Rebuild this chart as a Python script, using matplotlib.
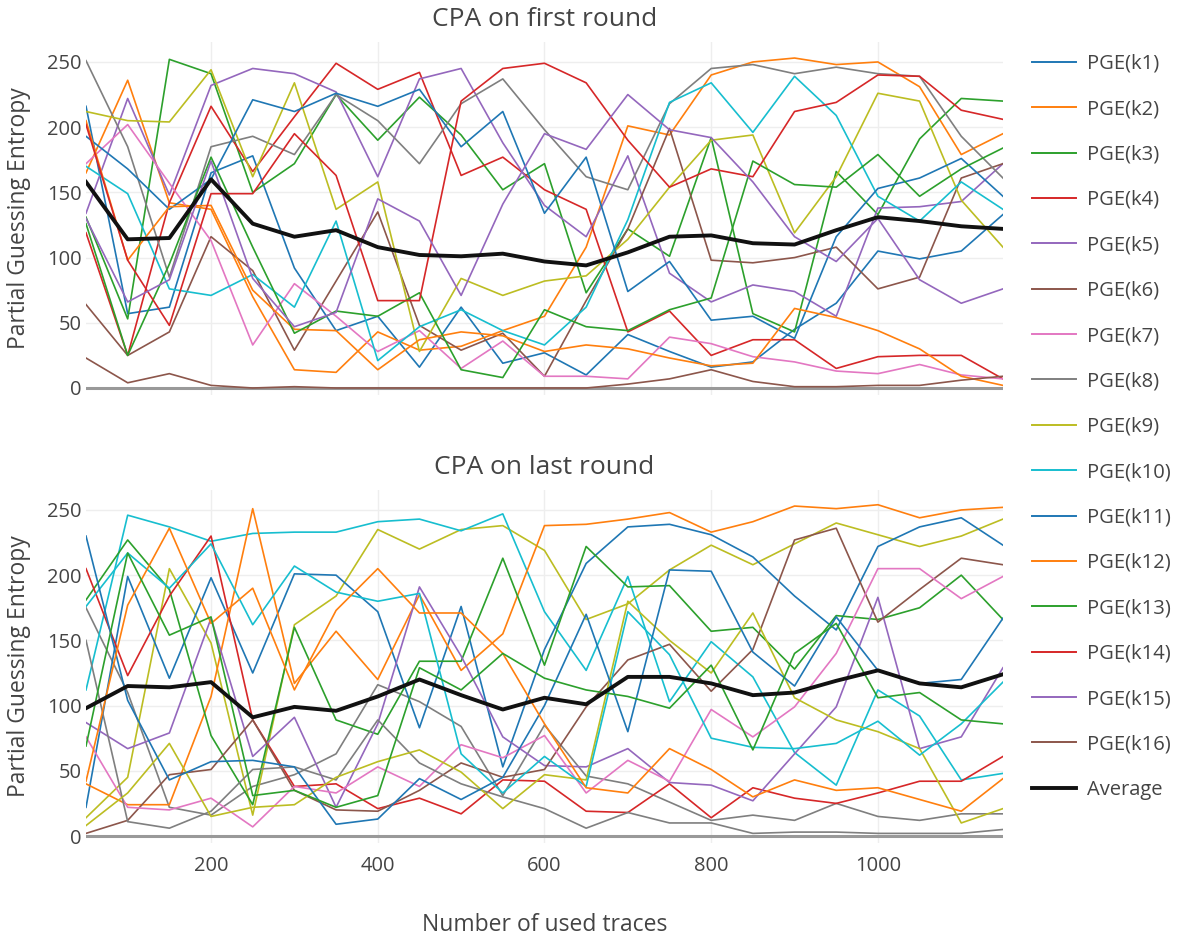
import matplotlib
matplotlib.use("Agg")
import matplotlib.pyplot as plt
from matplotlib.lines import Line2D

plt.rcParams['font.family'] = ['Open Sans', 'DejaVu Sans']

traces = list(range(50, 1151, 50))
keys = ['PGE(k%d)' % i for i in range(1, 17)]

# partial guessing entropy per key byte, first round
first_round = [
    [216, 57, 62, 165, 178, 92, 44, 55, 16, 62, 19, 27, 10, 41, 28, 16, 20, 45, 65, 105, 99, 105, 133],
    [165, 236, 142, 137, 70, 14, 12, 43, 29, 32, 44, 55, 108, 201, 194, 240, 250, 253, 248, 250, 231, 179, 195],
    [131, 53, 252, 241, 150, 172, 225, 190, 223, 194, 152, 172, 73, 122, 101, 192, 57, 43, 166, 133, 191, 222, 220],
    [119, 25, 142, 216, 166, 208, 249, 229, 242, 163, 177, 152, 137, 43, 59, 25, 37, 37, 15, 24, 25, 25, 7],
    [134, 222, 148, 232, 245, 241, 227, 162, 237, 245, 188, 140, 116, 178, 88, 66, 79, 74, 55, 138, 139, 143, 172],
    [64, 25, 43, 116, 90, 29, 82, 135, 48, 29, 42, 9, 67, 122, 199, 98, 96, 100, 108, 76, 85, 161, 172],
    [172, 202, 157, 113, 33, 80, 55, 28, 44, 15, 36, 9, 9, 7, 39, 34, 24, 20, 13, 11, 18, 10, 7],
    [251, 185, 85, 185, 193, 179, 225, 205, 172, 218, 237, 198, 162, 152, 218, 245, 248, 241, 246, 241, 239, 193, 161],
    [212, 205, 204, 244, 162, 234, 137, 158, 28, 84, 71, 82, 86, 114, 154, 190, 194, 119, 162, 226, 220, 144, 108],
    [170, 149, 76, 71, 87, 62, 128, 21, 47, 60, 44, 33, 62, 129, 219, 234, 196, 239, 209, 147, 128, 158, 137],
    [193, 168, 137, 160, 221, 212, 226, 216, 229, 185, 212, 134, 177, 74, 97, 52, 55, 38, 116, 153, 161, 176, 147],
    [205, 98, 139, 140, 75, 45, 44, 14, 37, 43, 40, 28, 33, 30, 23, 17, 19, 61, 54, 44, 30, 9, 2],
    [126, 25, 95, 177, 108, 42, 59, 55, 73, 14, 8, 60, 47, 44, 60, 69, 174, 156, 154, 179, 147, 168, 184],
    [202, 98, 48, 149, 149, 195, 163, 67, 67, 220, 245, 249, 234, 190, 154, 168, 162, 212, 219, 240, 239, 213, 206],
    [130, 66, 83, 174, 84, 47, 58, 145, 128, 71, 141, 195, 183, 225, 198, 192, 158, 116, 97, 130, 83, 65, 76],
    [23, 4, 11, 2, 0, 1, 0, 0, 0, 0, 0, 0, 0, 3, 7, 14, 5, 1, 1, 2, 2, 6, 9],
]
first_avg = [158, 114, 115, 160, 126, 116, 121, 108, 102, 101, 103, 97, 94, 104,
             116, 117, 111, 110, 121, 131, 128, 124, 122]

# same for the last round
last_round = [
    [175, 110, 22, 16, 38, 47, 63, 116, 103, 84, 31, 85, 46, 40, 26, 12, 16, 12, 25, 15, 12, 17, 17],
    [14, 45, 205, 148, 16, 162, 184, 235, 220, 235, 238, 219, 166, 178, 204, 223, 208, 224, 240, 231, 222, 230, 243],
    [112, 246, 237, 226, 232, 233, 233, 241, 243, 234, 247, 172, 127, 199, 103, 149, 122, 64, 39, 112, 92, 43, 48],
    [22, 199, 121, 198, 125, 201, 200, 172, 83, 176, 53, 143, 209, 237, 239, 231, 214, 184, 158, 222, 237, 244, 223],
    [40, 24, 24, 107, 251, 117, 157, 120, 185, 127, 155, 238, 239, 243, 248, 233, 241, 253, 251, 254, 244, 250, 252],
    [181, 227, 189, 77, 24, 160, 89, 78, 134, 134, 213, 131, 222, 191, 192, 157, 160, 128, 169, 166, 175, 200, 166],
    [205, 123, 184, 230, 89, 38, 40, 21, 29, 17, 43, 42, 19, 18, 40, 14, 37, 29, 25, 33, 42, 42, 61],
    [87, 67, 79, 167, 61, 91, 22, 86, 191, 138, 76, 54, 53, 67, 41, 39, 27, 63, 99, 183, 67, 76, 129],
    [2, 12, 47, 51, 89, 35, 20, 19, 35, 56, 45, 51, 99, 135, 147, 111, 143, 227, 236, 164, 189, 213, 208],
    [76, 22, 20, 29, 7, 38, 33, 53, 38, 70, 60, 77, 33, 58, 42, 97, 76, 99, 140, 205, 205, 182, 199],
    [150, 11, 6, 19, 51, 53, 43, 89, 56, 40, 30, 21, 6, 18, 10, 10, 2, 3, 3, 2, 2, 2, 5],
    [8, 33, 71, 15, 22, 24, 45, 57, 66, 49, 21, 47, 43, 180, 150, 125, 171, 106, 89, 80, 67, 10, 21],
    [176, 217, 190, 224, 162, 207, 187, 180, 186, 63, 33, 61, 38, 172, 139, 75, 68, 67, 71, 88, 62, 86, 118],
    [230, 104, 43, 57, 58, 53, 9, 13, 44, 28, 45, 100, 170, 80, 204, 203, 141, 115, 168, 127, 117, 120, 167],
    [42, 177, 236, 163, 190, 112, 173, 205, 171, 171, 140, 86, 37, 33, 67, 51, 30, 43, 35, 37, 28, 19, 44],
    [69, 217, 154, 168, 31, 35, 22, 31, 129, 112, 140, 121, 112, 107, 98, 131, 66, 140, 163, 106, 110, 89, 86],
]
last_avg = [98, 115, 114, 118, 91, 99, 96, 107, 120, 108, 97, 106, 101, 122,
            122, 117, 108, 110, 119, 127, 117, 114, 124]

palette = ['#1f77b4', '#ff7f0e', '#2ca02c', '#d62728', '#9467bd',
           '#8c564b', '#e377c2', '#7f7f7f', '#bcbd22', '#17becf']
# colour cycle keeps running into the second subplot (average takes one slot)
first_colors = [palette[i % 10] for i in range(16)]
last_colors = [palette[(i + 17) % 10] for i in range(16)]

TEXT = '#444444'

fig = plt.figure(figsize=(11.83, 9.4), dpi=100)
ax1 = fig.add_axes([0.0727, 0.5803, 0.7751, 0.3746])
ax2 = fig.add_axes([0.0727, 0.1037, 0.7751, 0.3746])


def style(ax, title, show_x):
    ax.set_xlim(50, 1150)
    ax.set_ylim(-5, 265)
    ax.set_xticks([200, 400, 600, 800, 1000])
    ax.set_yticks([0, 50, 100, 150, 200, 250])
    ax.grid(True, color='#eeeeee', linewidth=1.0)
    ax.set_axisbelow(True)
    ax.axhline(0, color='#999999', linewidth=2.2, zorder=1)
    for s in ax.spines.values():
        s.set_visible(False)
    ax.tick_params(length=0, labelsize=14.5, colors=TEXT, pad=3)
    ax.tick_params(axis='x', pad=10)
    if not show_x:
        ax.set_xticklabels([])
    ax.set_ylabel('Partial Guessing Entropy', fontsize=16.5, color=TEXT, labelpad=12)
    ax.set_title(title, fontsize=19, color=TEXT, pad=12)


for vals, c in zip(first_round, first_colors):
    ax1.plot(traces, vals, color=c, linewidth=1.2, zorder=2)
ax1.plot(traces, first_avg, color='#111111', linewidth=2.8, zorder=3)

for vals, c in zip(last_round, last_colors):
    ax2.plot(traces, vals, color=c, linewidth=1.2, zorder=2)
ax2.plot(traces, last_avg, color='#111111', linewidth=2.8, zorder=3)

style(ax1, 'CPA on first round', False)
style(ax2, 'CPA on last round', True)
ax2.set_xlabel('Number of used traces', fontsize=16.5, color=TEXT, labelpad=26)

handles = [Line2D([], [], color=c, linewidth=1.4) for c in first_colors]
handles.append(Line2D([], [], color='#111111', linewidth=2.8))
leg = fig.legend(handles, keys + ['Average'], loc='upper left',
                 bbox_to_anchor=(0.857, 0.962), frameon=False,
                 fontsize=14.5, handlelength=2.2, handletextpad=0.55,
                 labelspacing=1.26)
for t in leg.get_texts():
    t.set_color(TEXT)

fig.savefig('out.png', dpi=100, facecolor='white')
